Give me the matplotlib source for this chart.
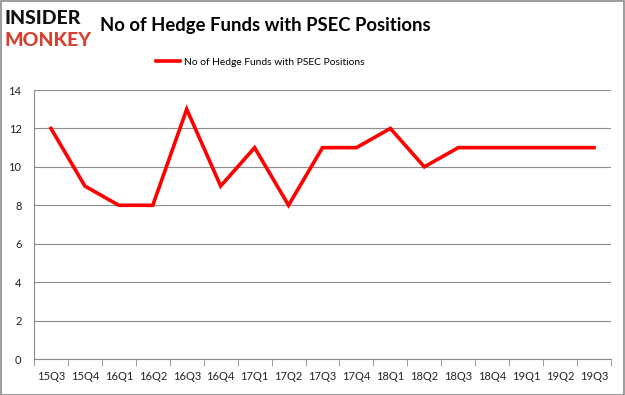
import matplotlib
matplotlib.use("Agg")
import matplotlib.pyplot as plt
from matplotlib.patches import Rectangle

categories = ["15Q3", "15Q4", "16Q1", "16Q2", "16Q3", "16Q4", "17Q1", "17Q2", "17Q3",
              "17Q4", "18Q1", "18Q2", "18Q3", "18Q4", "19Q1", "19Q2", "19Q3"]
values = [12, 9, 8, 8, 13, 9, 11, 8, 11, 11, 12, 10, 11, 11, 11, 11, 11]
yticks = [0, 2, 4, 6, 8, 10, 12, 14]
series_name = "No of Hedge Funds with PSEC Positions"

plt.rcParams["font.family"] = ["Lato", "DejaVu Sans"]

W, H = 625, 395
fig = plt.figure(figsize=(W / 100, H / 100), dpi=100)
fig.patch.set_facecolor("white")
fig.patches.append(Rectangle((0.5 / W, 0.5 / H), 1 - 1.5 / W, 1 - 1.5 / H, transform=fig.transFigure,
                             fill=False, edgecolor="#8c8c8c", linewidth=1.2))

ax = fig.add_axes([34 / W, (H - 359) / H, (611 - 34) / W, (359 - 90) / H])
x = list(range(len(categories)))
ax.plot(x, values, color="#ff0000", linewidth=2.6, solid_joinstyle="miter")
ax.set_xlim(-0.5, len(categories) - 0.5)
ax.set_ylim(0, 14)
ax.set_yticks(yticks)
ax.set_yticklabels([str(v) for v in yticks], fontsize=8, color="#222222")
ax.set_xticks(x)
ax.set_xticklabels(categories, fontsize=8, color="#222222")
ax.tick_params(axis="x", which="major", length=0, pad=9)
ax.set_xticks([i - 0.5 for i in range(len(categories) + 1)], minor=True)
ax.tick_params(axis="x", which="minor", length=5, color="#8c8c8c")
ax.tick_params(axis="y", length=0, pad=9)
ax.grid(axis="y", color="#8c8c8c", linewidth=0.8)
ax.set_axisbelow(True)
for s in ["top", "right"]:
    ax.spines[s].set_visible(False)
ax.spines["left"].set_color("#8c8c8c")
ax.spines["bottom"].set_color("#8c8c8c")

fig.text(100 / W, 1 - 26 / H, series_name, fontsize=13.3, fontweight="bold",
         va="center", ha="left")
fig.text(4 / W, 1 - 18 / H, "INSIDER", fontsize=14, fontweight="black", color="#111111",
         va="center", ha="left")
fig.text(4 / W, 1 - 40 / H, "MONKEY", fontsize=14, fontweight="black", color="#d6402e",
         va="center", ha="left")

ax.legend([plt.Line2D([], [], color="#ff0000", linewidth=2.6)], [series_name],
          loc="center", bbox_to_anchor=(260 / W, 1 - 62 / H), bbox_transform=fig.transFigure,
          frameon=False, fontsize=7.4, handlelength=2.4, handletextpad=0.3)

fig.savefig("out.png", dpi=100)
